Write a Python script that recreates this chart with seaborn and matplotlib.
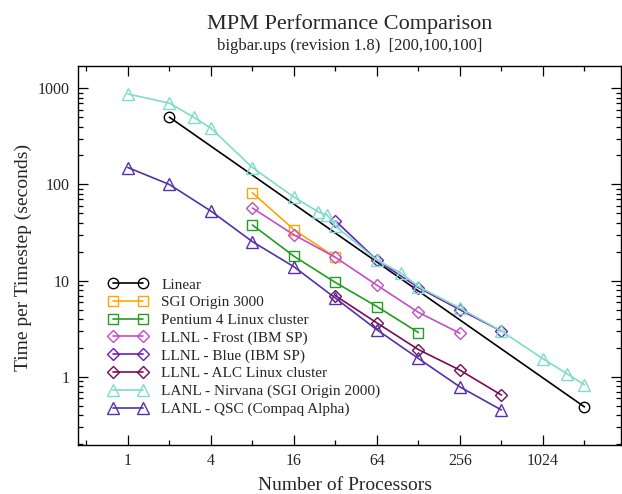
import numpy as np
import pandas as pd
import matplotlib
matplotlib.use("Agg")
import matplotlib.pyplot as plt
from matplotlib.ticker import FixedLocator, FixedFormatter, NullFormatter
import seaborn as sns

# Data
linear_x = [2, 2048]
linear_y = [500, 0.49]

sgi_x = [8, 16, 32]
sgi_y = [82, 34, 17.5]

p4_x = [8, 16, 32, 64, 128]
p4_y = [38, 18, 9.6, 5.4, 2.9]

frost_x = [8, 16, 32, 64, 128, 256]
frost_y = [57, 30, 17.5, 9.0, 4.7, 2.85]

blue_x = [32, 64, 128, 256, 512]
blue_y = [42, 16.4, 8.5, 5.0, 3.0]

alc_x = [32, 64, 128, 256, 512]
alc_y = [7.0, 3.65, 1.93, 1.18, 0.65]

nirvana_x = [1, 2, 3, 4, 8, 16, 24, 28, 32, 64, 96, 128, 256, 512, 1024, 1536, 2048]
nirvana_y = [870, 700, 500, 385, 150, 74, 52, 48, 37, 16.4, 12, 8.7, 5.2, 3.0, 1.55, 1.08, 0.83]

qsc_x = [1, 2, 4, 8, 16, 32, 64, 128, 256, 512]
qsc_y = [150, 100, 53, 25.5, 14, 6.6, 3.1, 1.56, 0.79, 0.455]

x_ticks = [1, 4, 16, 64, 256, 1024]
x_tick_labels = ["1", "4", "16", "64", "256", "1024"]
x_minor = [0.5, 2, 8, 32, 128, 512, 2048]
y_ticks = [1, 10, 100, 1000]
y_tick_labels = ["1", "10", "100", "1000"]

series = [
    ("Linear", linear_x, linear_y, "#000000", "o", 7.5),
    ("SGI Origin 3000", sgi_x, sgi_y, "#ffa500", "s", 7.5),
    ("Pentium 4 Linux cluster", p4_x, p4_y, "#1f9e1f", "s", 7.5),
    ("LLNL - Frost (IBM SP)", frost_x, frost_y, "#c24fc8", "D", 6.5),
    ("LLNL - Blue (IBM SP)", blue_x, blue_y, "#6e1eb8", "D", 6.5),
    ("LLNL - ALC Linux cluster", alc_x, alc_y, "#7a0a58", "D", 6.5),
    ("LANL - Nirvana (SGI Origin 2000)", nirvana_x, nirvana_y, "#7fdccb", "^", 9),
    ("LANL - QSC (Compaq Alpha)", qsc_x, qsc_y, "#5530aa", "^", 9),
]

sns.set_style("ticks")
plt.rcParams["font.family"] = ["Liberation Serif", "DejaVu Serif"]
plt.rcParams["axes.linewidth"] = 1.0

fig = plt.figure(figsize=(6.22, 4.94), dpi=100)
ax = fig.add_axes([78 / 622, 1 - 445 / 494, (621 - 78) / 622, (445 - 66) / 494])

for name, xs, ys, color, marker, ms in series:
    df = pd.DataFrame({"x": xs, "y": ys})
    sns.lineplot(data=df, x="x", y="y", ax=ax, color=color, lw=1.2,
                 marker=marker, markersize=ms, markerfacecolor="none",
                 markeredgecolor=color, markeredgewidth=1.0, label=name)

ax.set_xscale("log", base=2)
ax.set_yscale("log")
ax.set_xlim(0.435, 3770)
ax.set_ylim(0.197, 1700)

ax.xaxis.set_major_locator(FixedLocator(x_ticks))
ax.xaxis.set_major_formatter(FixedFormatter(x_tick_labels))
ax.xaxis.set_minor_locator(FixedLocator(x_minor))
ax.xaxis.set_minor_formatter(NullFormatter())
ax.yaxis.set_major_locator(FixedLocator(y_ticks))
ax.yaxis.set_major_formatter(FixedFormatter(y_tick_labels))
minor_y = [m * 10.0 ** e for e in range(-1, 4) for m in range(2, 10)]
ax.yaxis.set_minor_locator(FixedLocator(minor_y))
ax.yaxis.set_minor_formatter(NullFormatter())

ax.tick_params(which="both", direction="in", top=True, right=True,
               labelsize=11.5, width=0.9, color="black")
ax.tick_params(which="major", length=7, pad=6)
ax.tick_params(which="minor", length=3.5)
for s in ax.spines.values():
    s.set_color("black")

ax.set_xlabel("")
ax.set_ylabel("")

fig.text(349.5 / 622, 1 - 29 / 494, "MPM Performance Comparison",
         ha="center", va="baseline", fontsize=16)
fig.text(349.5 / 622, 1 - 50 / 494, "bigbar.ups (revision 1.8)  [200,100,100]",
         ha="center", va="baseline", fontsize=12)
fig.text(345 / 622, 4 / 494, "Number of Processors",
         ha="center", va="baseline", fontsize=14)
fig.text(23 / 622, 1 - 257 / 494, "Time per Timestep (seconds)",
         ha="center", va="center", rotation=90, fontsize=14)

ax.legend(loc="upper left", bbox_to_anchor=(108 / 622, 1 - 278 / 494),
          bbox_transform=fig.transFigure, frameon=False, fontsize=11,
          handlelength=2.6, handletextpad=0.9, labelspacing=0.26,
          borderpad=0, borderaxespad=0, numpoints=2)

fig.savefig("out.png", dpi=100)
